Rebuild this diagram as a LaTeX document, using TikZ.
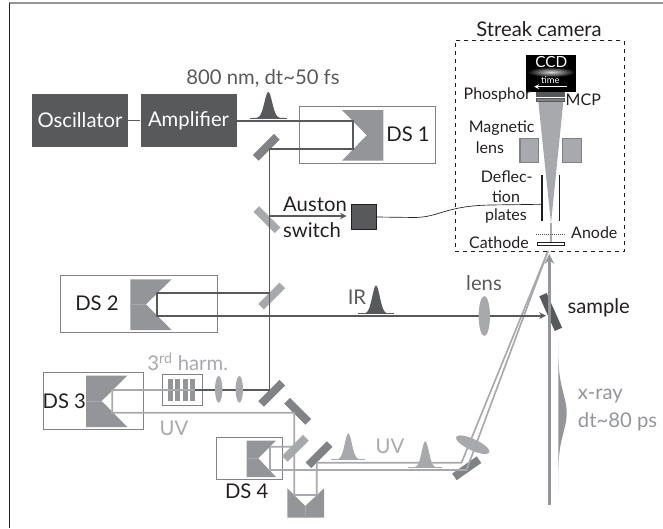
\documentclass[tikz,border=0pt]{standalone}
\usepackage{fontspec}
\setmainfont{Lato}
\usepackage{xcolor}
\usetikzlibrary{shapes.geometric, arrows, positioning}
\definecolor{dkgrey}{HTML}{58595B}
\definecolor{mdgrey}{HTML}{939598}
\definecolor{ltgrey}{HTML}{A7A9AC}
\definecolor{mrgrey}{HTML}{808285}
\definecolor{ink}{HTML}{231F20}
% pulse: centre x, baseline y, half base, height
\newcommand{\pulseshape}[5]{%
  \fill[#5] plot[domain=-1:1, samples=41] ({#1+#3*\x},{#2-#4*exp(-(3.4*\x)^2)}) -- cycle;
  \draw[#5, line width=0.5pt] (#1-#3,#2) -- (#1+#3,#2);}

\begin{document}
\begin{tikzpicture}[
  x=0.75pt, y=-0.75pt,
  lbl/.style={font=\fontsize{15.2}{18}\selectfont, text=ink, inner sep=0pt},
  lblsm/.style={font=\fontsize{12}{14}\selectfont, text=ink, inner sep=0pt},
  box/.style={rectangle, fill=dkgrey, text=white, inner sep=0pt, minimum width=72pt, minimum height=40pt,
              font=\fontsize{15.2}{18}\selectfont},
  dsbox/.style={rectangle, draw=mrgrey, line width=0.6pt},
  prism/.style={fill=mdgrey},
  mirror/.style={rectangle, fill=mrgrey, inner sep=0pt, minimum width=22.5pt, minimum height=6pt},
  split/.style={mirror, fill=ltgrey},
  lens/.style={ellipse, fill=ltgrey, inner sep=0pt},
  beam/.style={draw=dkgrey, line width=1.25pt},
  uvbeam/.style={draw=ltgrey, line width=1.25pt},
  arr/.style={->, >=stealth, line width=1.25pt, draw=dkgrey}
]
\useasboundingbox (0,0) rectangle (663,528);
\draw[mdgrey, line width=1pt] (9,3) -- (663,3);
\draw[ink, line width=0.9pt] (9.5,3) -- (9.5,528);

% laser
\node[box] (osc) at (80,120.6) {Oscillator};
\node[box, right=9pt of osc] (amp) {Amplifier};
\node[font=\fontsize{15.2}{18}\selectfont, text=dkgrey, inner sep=0pt] (wavelen) at (263,78) {800 nm, dt\textasciitilde 50 fs};
\pulseshape{268.3}{118}{18.5}{26}{dkgrey}

% delay stages
\node[dsbox, minimum width=102.4pt, minimum height=42.7pt, inner sep=0pt] (ds1) at (367.5,134.8) {};
\node[dsbox, minimum width=117.4pt, minimum height=42.4pt, inner sep=0pt] (ds2) at (139,304) {};
\node[dsbox, minimum width=74.7pt, minimum height=42.7pt, inner sep=0pt] (ds3) at (93.5,400.8) {};
\node[dsbox, minimum width=49.7pt, minimum height=31.2pt, inner sep=0pt] (ds4) at (249.2,458.5) {};
\fill[prism] (342,110) -- (383.3,110) -- (383.3,160.7) -- (342,160.7) -- (366.7,135.3) -- cycle;
\fill[prism] (171.7,279.3) -- (130.3,279.3) -- (130.3,330) -- (171.7,330) -- (146,304.3) -- cycle;
\fill[prism] (127.3,375.7) -- (86,375.7) -- (86,427) -- (127.3,427) -- (101.7,401) -- cycle;
\fill[prism] (276,440.7) -- (246.7,440.7) -- (246.7,477) -- (276,477) -- (258.3,458.3) -- cycle;
\fill[prism] (287.3,488.3) -- (305.3,506) -- (324,488.3) -- (324,517.7) -- (287.3,517.7) -- cycle;
\draw[ltgrey, line width=0.4pt] (130.3,304.3) -- (146,304.3) (86,401) -- (101.7,401) (246.7,458.3) -- (258.3,458.3);
\draw[ltgrey, line width=0.4pt] (305.3,506) -- (305.3,517.7);
\node[lbl] (ds1lbl) at (408,134) {DS 1};
\node[lbl] (ds2lbl) at (97,303) {DS 2};
\node[lbl] (ds3lbl) at (64.3,401) {DS 3};
\node[lbl] (ds4lbl) at (246.7,491.7) {DS 4};

% mirrors
\node[mirror, rotate=45] (m1) at (266.3,147.3) {};
\node[split, rotate=-45] (m2) at (267,219.7) {};
\node[split, rotate=45] (m3) at (271.7,296) {};
\node[mirror, rotate=45] (m4) at (271.7,393.3) {};
\node[mirror, rotate=-45] (m5) at (297.7,411.3) {};
\node[split, rotate=45] (m6) at (295.3,448.3) {};
\node[mirror, rotate=45] (m7) at (319,454.7) {};
\node[mirror, rotate=35] (m8) at (466.7,468.3) {};
\node[mirror, fill=dkgrey, rotate=-66, minimum width=28.5pt] (samp) at (550.7,312) {};

% harmonic generation
\node[dsbox, minimum width=30pt, minimum height=23.2pt, inner sep=0pt] (thg) at (182.3,390.2) {};
\foreach \xb in {170.6,177.7,185.2,192.6}
  \fill[mdgrey] (\xb-2.4,379) rectangle (\xb+2.4,401);

% beam corners
\coordinate (a1) at (353,120.7);
\coordinate (a2) at (353,148.7);
\coordinate (a3) at (269.5,148.7);
\coordinate (a4) at (269.5,216);
\coordinate (a5) at (269.5,292.7);
\coordinate (a6) at (269.5,390);
\coordinate (b1) at (157.3,292.7);
\coordinate (b2) at (157.3,315.7);
\coordinate (b3) at (546,315.7);
\coordinate (c1) at (195,390);
\coordinate (c2) at (112.3,390);
\coordinate (c3) at (112.3,412.7);
\coordinate (c4) at (294.3,412.7);
\coordinate (c5) at (294.3,495);
\coordinate (c6) at (316.7,495);
\coordinate (c7) at (316.7,462.7);
\coordinate (c8) at (461.5,462.7);
\coordinate (d1) at (294.3,446.7);
\coordinate (d2) at (270,446.7);
\coordinate (d3) at (270,470);
\coordinate (d4) at (466.5,470);
\coordinate (e1) at (548,251);

\draw[uvbeam] (c1) -- (c2) -- (c3) -- (c4) -- (c5) -- (c6) -- (c7) -- (c8) -- (e1);
\draw[uvbeam] (d1) -- (d2) -- (d3) -- (d4) -- (e1);
\draw[beam] (osc) -- (amp);
\draw[beam] (amp.east |- a1) -- (a1) -- (a2) -- (a3) -- (a6) -- (c1);
\draw[beam] (a5) -- (b1) -- (b2) -- (269.5,315.7);
\draw[arr] (b2) -- (b3);
\draw[arr] (a4) -- (346.7,216);

% lenses
\node[lens, minimum width=8.5pt, minimum height=30pt] (l1) at (484.3,316) {};
\node[lens, minimum width=5.5pt, minimum height=20pt] (l2) at (218.7,389.3) {};
\node[lens, minimum width=5.5pt, minimum height=20pt] (l3) at (239.3,389.3) {};
\node[lens, minimum width=27.5pt, minimum height=8.5pt, rotate=-25] (l4) at (472.7,444.7) {};

% auston switch
\node[rectangle, fill=dkgrey, draw=ink, line width=0.5pt, minimum size=19pt, inner sep=0pt] (sw) at (363.8,217) {};
\node[lbl] (auston) at (315,204) {Auston};
\node[lbl] (switch) at (312,230) {switch};

% pulses and labels
\pulseshape{376}{313.5}{18}{28}{dkgrey}
\pulseshape{348.3}{459.3}{17}{26}{ltgrey}
\pulseshape{425.3}{467.3}{17}{26}{ltgrey}
\node[lbl, text=dkgrey] (irlbl) at (357,297) {IR};
\node[lbl, text=dkgrey] (lenslbl) at (484,282.7) {lens};
\node[lbl] (samplbl) at (598.7,308) {sample};
\node[lbl, text=ltgrey] (thglbl) at (187.7,361.7) {3\textsuperscript{rd} harm.};
\node[lbl, text=ltgrey] (uv1) at (174,428.3) {UV};
\node[lbl, text=ltgrey] (uv2) at (390,446.7) {UV};

% x-ray
\fill[mdgrey] plot[domain=340:493, samples=41] ({558.3+8.4*exp(-((\x-413)/28)^2)},\x) -- cycle;
\coordinate (x0) at (549.3,505);
\coordinate (x1) at (549.3,254);
\draw[->, >=stealth, mdgrey, line width=2.2pt] (x0) -- (x1);
\node[lbl, text=mdgrey, anchor=west] (xlbl) at (577.7,396) {x-ray};
\node[lbl, text=mdgrey, anchor=west] (dtlbl) at (577.7,422) {dt\textasciitilde 80 ps};

% streak camera
\node[rectangle, draw=ink, dashed, line width=0.6pt, minimum width=127pt, minimum height=158pt, inner sep=0pt] (streak) at (539.7,146) {};
\node[lbl] (streaklbl) at (539,29) {Streak camera};
\node[rectangle, fill=black, minimum width=37.3pt, minimum height=27.5pt, inner sep=0pt] (ccd) at (551.2,73.3) {};
\shade[inner color=white!85!black, outer color=black] (551.2,72) ellipse (24 and 5);
\node[font=\fontsize{11.5}{14}\selectfont, text=white, inner sep=0pt] (ccdlbl) at (551.3,62.3) {CCD};
\node[font=\fontsize{7}{8}\selectfont, text=white, inner sep=0pt] (timelbl) at (550.3,80) {time};
\coordinate (t0) at (566.7,86.7);
\coordinate (t1) at (534.3,86.7);
\draw[->, >=stealth, white, line width=0.6pt] (t0) -- (t1);
\fill[ltgrey] (538.3,101.7) -- (563.3,101.7) -- (551,223.3) -- cycle;
\draw[ltgrey, line width=1.2pt] (551,223) -- (551,243);
\node[rectangle, fill=dkgrey, minimum width=21.5pt, minimum height=3.8pt, inner sep=0pt] (phos) at (550.5,94.2) {};
\node[rectangle, fill=mrgrey, draw=dkgrey, line width=0.6pt, minimum width=20.5pt, minimum height=2.6pt, inner sep=0pt] (mcp) at (550.5,99.7) {};
\node[rectangle, fill=ltgrey, draw=mrgrey, line width=1pt, minimum width=14pt, minimum height=18pt, inner sep=0pt] (mag1) at (529.3,150.8) {};
\node[rectangle, fill=ltgrey, draw=mrgrey, line width=1pt, minimum width=14pt, minimum height=18pt, inner sep=0pt] (mag2) at (572,150.8) {};
\coordinate (p1a) at (541.7,175);
\coordinate (p1b) at (541.7,221);
\coordinate (p2a) at (559.3,175);
\coordinate (p2b) at (559.3,221);
\draw[ink, line width=1.2pt] (p1a) -- (p1b);
\draw[ink, line width=1.2pt] (p2a) -- (p2b);
\coordinate (p1c) at (541.7,204.3);
\draw[ink, line width=0.5pt] (sw.east) -- (415,217.5) .. controls (440,217) and (445,206) .. (490,205) -- (p1c);
\coordinate (an0) at (536,234);
\coordinate (an1) at (565,234);
\draw[dkgrey, densely dotted, line width=0.5pt] (an0) -- (an1);
\node[rectangle, fill=white, draw=ink, line width=0.6pt, minimum width=20.5pt, minimum height=2.2pt, inner sep=0pt] (cath) at (551.2,244.2) {};
\node[lblsm] (phoslbl) at (497.3,95) {Phosphor};
\node[lblsm] (mcplbl) at (583.3,100) {MCP};
\node[lblsm] (maglbl1) at (501.7,128) {Magnetic};
\node[lblsm] (maglbl2) at (490,147.7) {lens};
\node[lblsm] (deflbl1) at (506.7,176.7) {Deflec-};
\node[lblsm] (deflbl2) at (506,196.7) {tion};
\node[lblsm] (deflbl3) at (506,216) {plates};
\node[lblsm] (anlbl) at (594.3,232.7) {Anode};
\node[lblsm] (calbl) at (499,242.3) {Cathode};
\end{tikzpicture}
\end{document}
